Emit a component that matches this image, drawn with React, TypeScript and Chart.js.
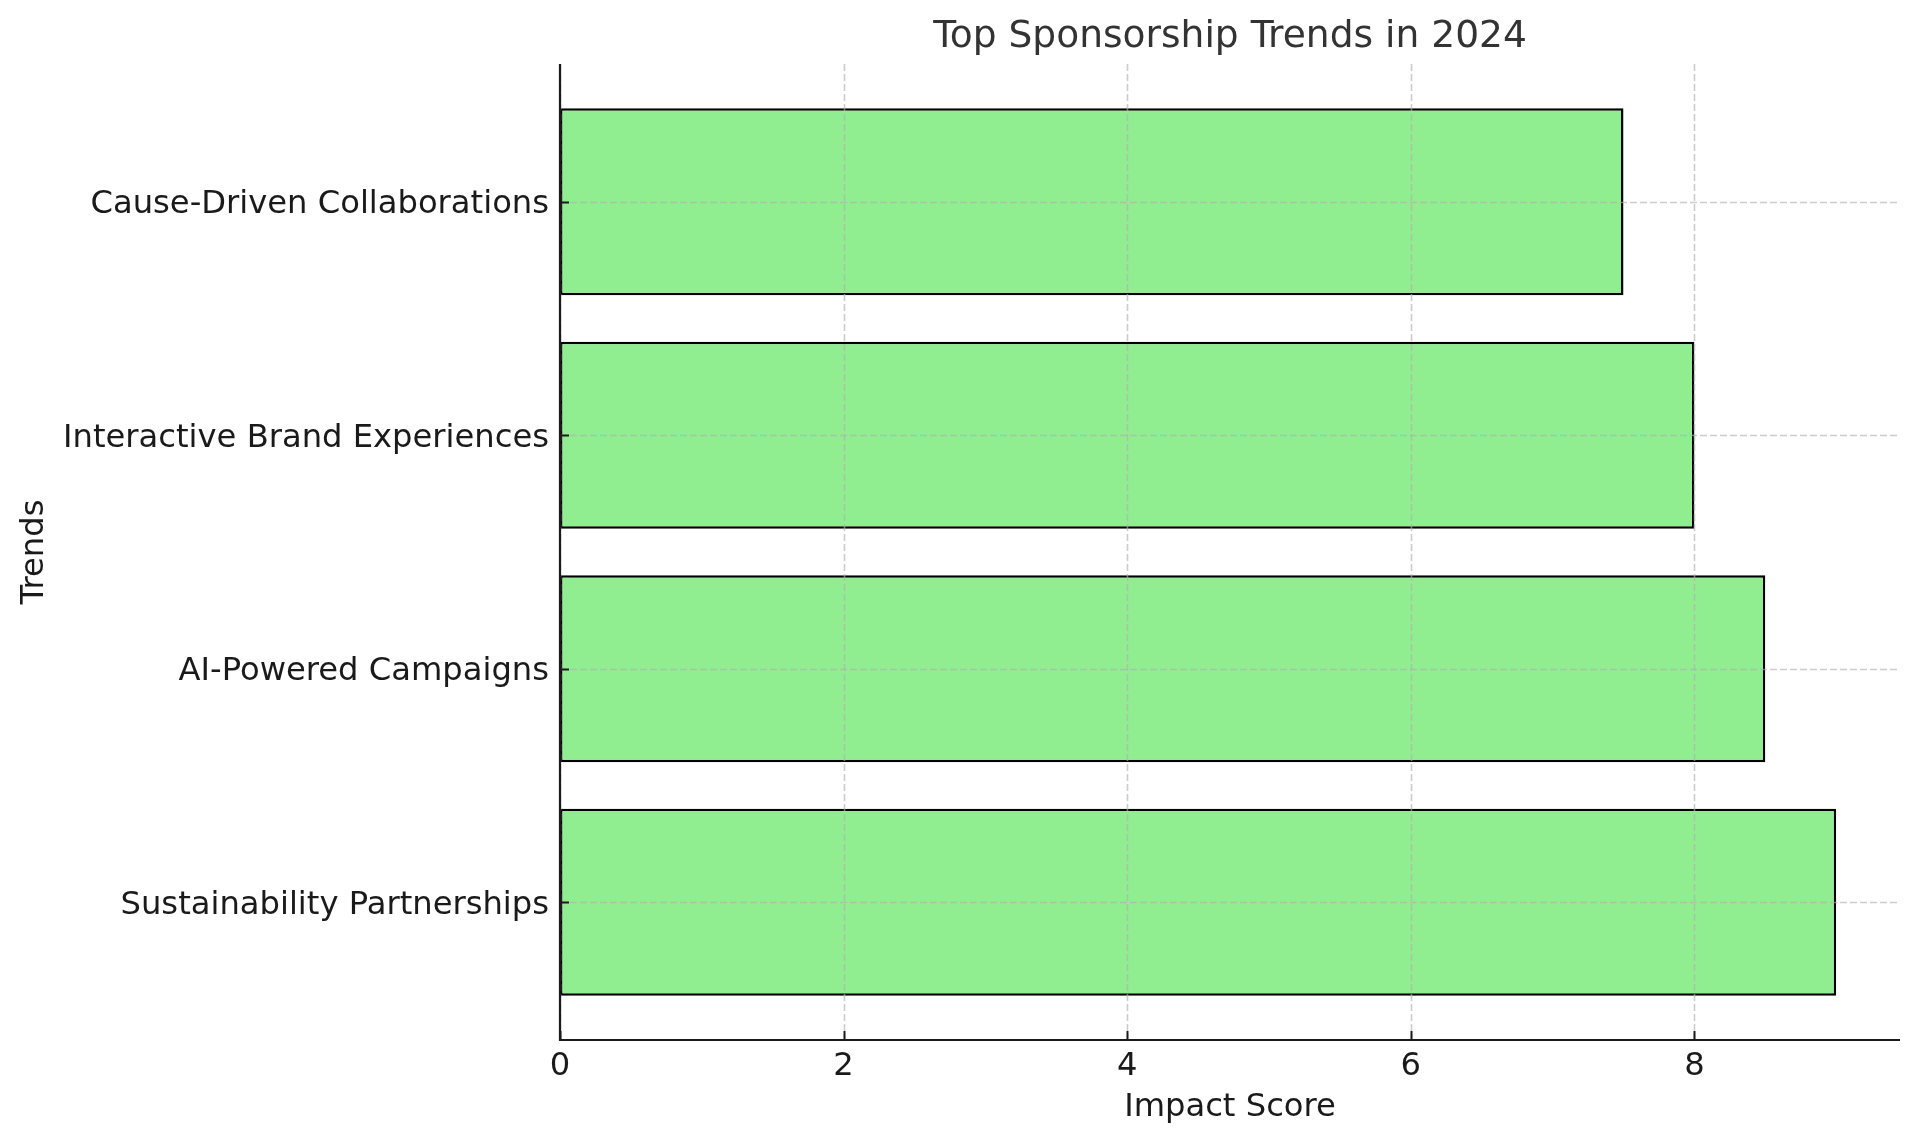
import React, { useEffect, useRef } from "react";
import { Chart, registerables } from "chart.js";

Chart.register(...registerables);

const trends = [
  "Sustainability Partnerships",
  "AI-Powered Campaigns",
  "Interactive Brand Experiences",
  "Cause-Driven Collaborations",
];
const impactScores = [9, 8.5, 8, 7.5];
const xTickValues = [0, 2, 4, 6, 8];
const chartTitle = "Top Sponsorship Trends in 2024";
const xAxisTitle = "Impact Score";
const yAxisTitle = "Trends";

const FONT = "'DejaVu Sans', sans-serif";
const TICK_PX = 32.2;
const TITLE_PX = 37.6;

const overlayPlugin = {
  id: "mplOverlay",
  afterDatasetsDraw(chart: any) {
    const { ctx, chartArea, scales } = chart;
    const x = scales.x;
    const y = scales.y;
    ctx.save();
    // grid (drawn above bars like the reference)
    ctx.strokeStyle = "rgba(176,176,176,0.65)";
    ctx.lineWidth = 1.6;
    ctx.setLineDash([7, 3]);
    for (const v of xTickValues) {
      const px = Math.round(x.getPixelForValue(v)) + 0.5;
      ctx.beginPath();
      ctx.moveTo(px, chartArea.top);
      ctx.lineTo(px, chartArea.bottom);
      ctx.stroke();
    }
    trends.forEach((_, i) => {
      const py = Math.round(y.getPixelForValue(i)) + 0.5;
      ctx.beginPath();
      ctx.moveTo(chartArea.left, py);
      ctx.lineTo(chartArea.right, py);
      ctx.stroke();
    });
    ctx.setLineDash([]);
    // inward ticks
    ctx.strokeStyle = "#1a1a1a";
    ctx.lineWidth = 2;
    for (const v of xTickValues) {
      const px = Math.round(x.getPixelForValue(v)) + 0.5;
      ctx.beginPath();
      ctx.moveTo(px, chartArea.bottom);
      ctx.lineTo(px, chartArea.bottom - 9);
      ctx.stroke();
    }
    trends.forEach((_, i) => {
      const py = Math.round(y.getPixelForValue(i)) + 0.5;
      ctx.beginPath();
      ctx.moveTo(chartArea.left, py);
      ctx.lineTo(chartArea.left + 9, py);
      ctx.stroke();
    });
    // spines
    ctx.lineWidth = 2.2;
    ctx.beginPath();
    ctx.moveTo(chartArea.left, chartArea.top);
    ctx.lineTo(chartArea.left, chartArea.bottom);
    ctx.lineTo(chartArea.right, chartArea.bottom);
    ctx.stroke();
    ctx.restore();
  },
  afterDraw(chart: any) {
    const { ctx, chartArea } = chart;
    const cx = (chartArea.left + chartArea.right) / 2;
    const cy = (chartArea.top + chartArea.bottom) / 2;
    ctx.save();
    ctx.textAlign = "center";
    ctx.textBaseline = "middle";
    ctx.fillStyle = "#333333";
    ctx.font = `${TITLE_PX}px ${FONT}`;
    ctx.fillText(chartTitle, cx, 37);
    ctx.fillStyle = "#1a1a1a";
    ctx.font = `${TICK_PX}px ${FONT}`;
    ctx.fillText(xAxisTitle, cx, 1108);
    ctx.translate(35, cy);
    ctx.rotate(-Math.PI / 2);
    ctx.fillText(yAxisTitle, 0, 0);
    ctx.restore();
  },
};

export default function App() {
  const canvasRef = useRef<HTMLCanvasElement | null>(null);

  useEffect(() => {
    const canvas = canvasRef.current;
    if (!canvas) return;
    const chart = new Chart(canvas, {
      type: "bar",
      data: {
        datasets: [
          {
            label: "Impact Score",
            data: impactScores.map((v, i) => ({ x: v, y: i })),
            backgroundColor: "#90EE90",
            borderColor: "#000000",
            borderWidth: 2.5,
            borderSkipped: false,
            barPercentage: 0.8,
            categoryPercentage: 1,
          },
        ],
      },
      options: {
        indexAxis: "y",
        responsive: false,
        animation: false,
        maintainAspectRatio: false,
        layout: { padding: { left: 0, right: 20, top: 64, bottom: 0 } },
        plugins: {
          legend: { display: false },
          title: { display: false },
          tooltip: { enabled: false },
        },
        scales: {
          x: {
            type: "linear",
            min: 0,
            max: 9.45,
            offset: false,
            grid: { display: false, drawTicks: false },
            border: { display: false },
            afterBuildTicks: (scale: any) => {
              scale.ticks = xTickValues.map((v) => ({ value: v }));
            },
            afterFit: (scale: any) => {
              scale.height = 104;
            },
            ticks: {
              padding: 7,
              color: "#1a1a1a",
              font: { family: FONT, size: TICK_PX },
              maxRotation: 0,
              callback: (v: any) => String(v),
            },
          },
          y: {
            type: "linear",
            min: -0.59,
            max: 3.59,
            offset: false,
            grid: { display: false, drawTicks: false, offset: false },
            border: { display: false },
            afterBuildTicks: (scale: any) => {
              scale.ticks = trends.map((_, i) => ({ value: i }));
            },
            afterFit: (scale: any) => {
              scale.width = 560;
            },
            ticks: {
              padding: 11,
              labelOffset: 3,
              color: "#1a1a1a",
              font: { family: FONT, size: TICK_PX },
              callback: (v: any) => trends[Math.round(Number(v))] ?? "",
            },
          },
        },
      },
      plugins: [overlayPlugin],
    } as any);
    return () => chart.destroy();
  }, []);

  return (
    <div
      style={{
        position: "fixed",
        left: 0,
        top: 0,
        width: 1920,
        height: 1144,
        background: "#ffffff",
      }}
    >
      <canvas ref={canvasRef} width={1920} height={1144} style={{ width: 1920, height: 1144, display: "block" }} />
    </div>
  );
}
